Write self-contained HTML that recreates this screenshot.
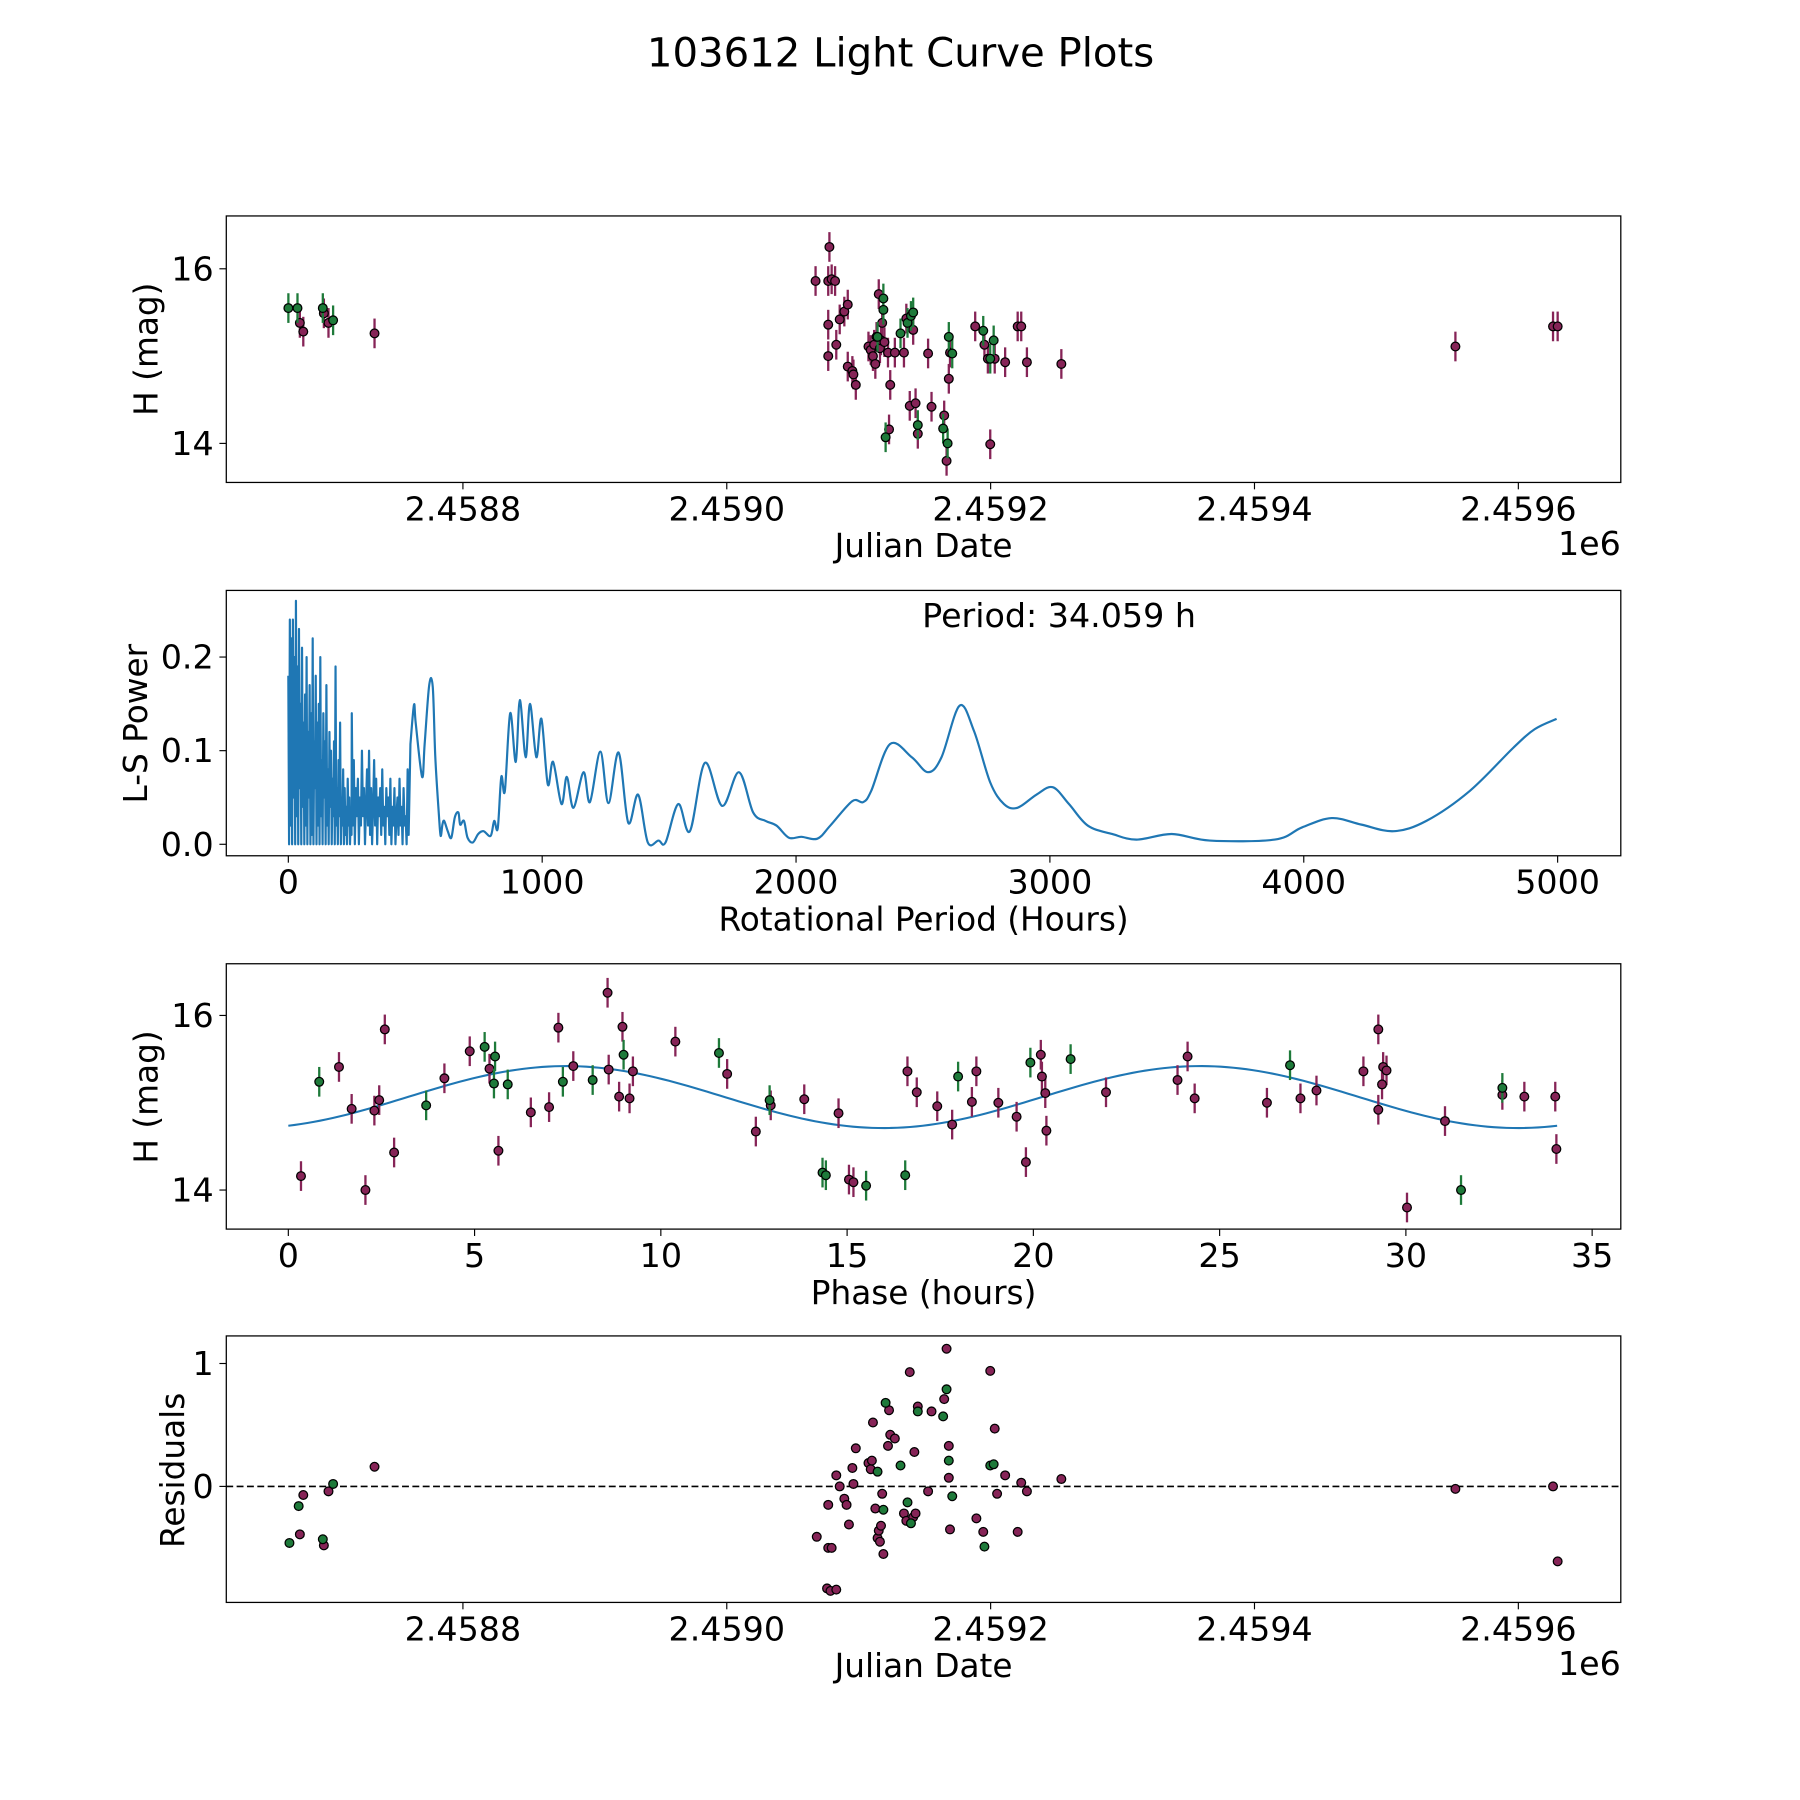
<!DOCTYPE html>
<html><head><meta charset="utf-8"><style>
html,body{margin:0;padding:0;background:#fff;}
svg{display:block;font-family:"DejaVu Sans","Liberation Sans",sans-serif;}
</style></head><body>
<svg id="fig" width="1800" height="1800" viewBox="0 0 1567 1567" xmlns="http://www.w3.org/2000/svg">
<rect width="1567" height="1567" fill="#fff"/>
<text x="784" y="58" font-size="35" text-anchor="middle">103612 Light Curve Plots</text>
<g id="layer"></g>
</svg>
<script>
// ---- Panel 1: light curve ----
const jdM=[2458676.4,2458679.0,2458694.6,2458698.1,2458733.0,2459067.3,2459076.9,2459076.9,2459076.9,2459077.8,2459079.5,2459082.1,2459083.0,2459085.6,2459089.1,2459091.7,2459091.7,2459095.2,2459096.0,2459097.8,2459107.4,2459109.1,2459110.8,2459111.7,2459112.6,2459113.5,2459115.2,2459116.1,2459116.9,2459117.8,2459119.5,2459122.2,2459123.0,2459123.9,2459127.4,2459134.3,2459136.1,2459138.7,2459141.3,2459143.1,2459144.8,2459152.6,2459155.2,2459164.8,2459166.6,2459168.3,2459169.2,2459188.3,2459195.3,2459197.9,2459199.7,2459203.1,2459211.0,2459220.5,2459223.2,2459227.5,2459253.6,2459552.3,2459626.3,2459629.8];
const hM=[15.38,15.28,15.49,15.38,15.26,15.86,15.36,15.0,15.86,16.25,15.88,15.86,15.13,15.42,15.51,15.59,14.88,14.83,14.79,14.67,15.11,15.07,15.0,15.13,14.91,15.22,15.71,15.09,15.18,15.38,15.16,15.04,14.16,14.67,15.04,15.04,15.43,14.43,15.30,14.46,14.11,15.03,14.42,14.32,13.80,14.74,15.04,15.34,15.13,14.97,13.99,14.97,14.93,15.34,15.34,14.93,14.91,15.11,15.34,15.34];
const jdG=[2458667.7,2458674.6,2458693.8,2458701.6,2459114.3,2459118.7,2459118.7,2459120.4,2459131.7,2459137.0,2459139.6,2459141.3,2459144.8,2459164.0,2459167.4,2459168.3,2459170.9,2459194.4,2459199.7,2459202.3];
const hG=[15.55,15.55,15.55,15.41,15.22,15.66,15.53,14.07,15.26,15.38,15.46,15.50,14.21,14.17,14.0,15.22,15.03,15.29,14.97,15.18];
const errP1=0.17;
// ---- Panel 2: periodogram ----
const densePeriodStart=0, densePeriodStep=3;
const densePower=[0.18,0.0,0.24,0.02,0.22,0.0,0.24,0.05,0.2,0.0,0.26,0.03,0.19,0.0,0.23,0.06,0.15,0.0,0.21,0.04,0.13,0.0,0.16,0.02,0.2,0.0,0.12,0.05,0.17,0.0,0.14,0.01,0.22,0.0,0.11,0.06,0.18,0.0,0.13,0.02,0.15,0.0,0.2,0.03,0.09,0.0,0.14,0.05,0.11,0.0,0.17,0.02,0.08,0.0,0.12,0.04,0.1,0.0,0.07,0.03,0.11,0.0,0.19,0.02,0.06,0.0,0.09,0.03,0.13,0.0,0.05,0.02,0.08,0.0,0.06,0.01,0.04,0.0,0.07,0.02,0.05,0.0,0.03,0.01];
const noisyPeriodStart=250, noisyPeriodStep=4;
const noisyPower=[0.14,0.02,0.09,0.0,0.06,0.03,0.07,0.0,0.05,0.02,0.1,0.03,0.06,0.0,0.04,0.08,0.02,0.1,0.01,0.06,0.0,0.04,0.09,0.02,0.07,0.0,0.05,0.03,0.06,0.01,0.08,0.02,0.04,0.0,0.06,0.03,0.05,0.01,0.07,0.0,0.04,0.02,0.06,0.0,0.03,0.05,0.01,0.07,0.02,0.04,0.0,0.06,0.02,0.03,0.0,0.08,0.01];
const smoothPeriods=[481,495,502,527,537,555,569,579,593,600,607,614,628,642,656,670,677,692,706,727,748,769,797,811,825,839,853,874,896,912,935,952,977,997,1022,1043,1076,1097,1123,1163,1188,1229,1261,1301,1339,1378,1416,1458,1486,1536,1582,1641,1709,1775,1831,1880,1923,1972,2021,2084,2135,2221,2264,2296,2370,2456,2520,2573,2644,2701,2765,2819,2872,2947,3011,3075,3149,3245,3341,3480,3630,3886,3993,4110,4227,4355,4483,4654,4825,4910,4996];
const smoothPower=[0.107,0.149,0.129,0.072,0.107,0.170,0.168,0.093,0.032,0.009,0.021,0.025,0.014,0.007,0.029,0.034,0.021,0.025,0.007,0.002,0.011,0.014,0.009,0.025,0.017,0.072,0.057,0.140,0.088,0.154,0.093,0.150,0.093,0.134,0.064,0.088,0.043,0.072,0.039,0.077,0.045,0.099,0.044,0.098,0.023,0.053,0.002,0.004,0.002,0.043,0.014,0.087,0.041,0.077,0.034,0.025,0.020,0.007,0.008,0.006,0.020,0.046,0.045,0.057,0.107,0.093,0.077,0.093,0.148,0.121,0.066,0.043,0.039,0.053,0.061,0.043,0.020,0.011,0.005,0.011,0.004,0.005,0.018,0.028,0.021,0.014,0.025,0.057,0.103,0.123,0.134];
// ---- Panel 3: phased ----
const phM=[0.34,1.36,1.70,2.07,2.31,2.44,2.59,2.84,4.19,4.87,5.40,5.64,6.51,7.0,7.25,7.65,8.57,8.60,8.88,8.97,9.16,9.25,10.39,11.78,12.55,12.95,13.85,14.77,15.05,15.17,16.62,16.87,17.42,17.82,18.35,18.47,19.06,19.55,19.80,20.20,20.23,20.32,20.35,21.95,23.87,24.14,24.33,26.27,27.17,27.60,28.86,29.26,29.26,29.36,29.39,29.48,30.03,31.05,32.59,33.18,34.01,34.04];
const phHM=[14.16,15.41,14.93,14.0,14.91,15.03,15.84,14.43,15.28,15.59,15.39,14.45,14.89,14.95,15.86,15.42,16.26,15.38,15.07,15.87,15.05,15.36,15.70,15.33,14.67,14.97,15.04,14.88,14.12,14.09,15.36,15.12,14.96,14.75,15.01,15.36,15.0,14.84,14.32,15.55,15.30,15.11,14.68,15.12,15.26,15.53,15.05,15.0,15.05,15.14,15.36,15.84,14.92,15.21,15.41,15.37,13.80,14.79,15.09,15.07,15.07,14.47];
const phG=[0.83,3.70,5.27,5.55,5.52,5.89,7.37,8.17,9.0,11.56,12.92,14.34,14.43,15.51,16.56,17.98,19.92,21.0,26.89,31.48,32.59];
const phHG=[15.24,14.97,15.64,15.53,15.22,15.21,15.24,15.26,15.55,15.57,15.03,14.20,14.17,14.05,14.17,15.30,15.46,15.50,15.43,14.0,15.17];
const fitParams=[15.065,0.355,3.2,17.03]; // mean, amplitude, phase offset, period(h)
// ---- Panel 4: residuals ----
const rjdM=[2458676.4,2458679.0,2458694.6,2458698.1,2458733.0,2459068.2,2459076.9,2459076.9,2459079.5,2459076.0,2459078.6,2459083.0,2459083.0,2459085.6,2459089.1,2459090.8,2459092.6,2459095.2,2459096.0,2459097.8,2459107.4,2459109.1,2459110.0,2459110.8,2459112.6,2459114.3,2459115.2,2459116.1,2459116.9,2459117.8,2459118.7,2459122.2,2459123.0,2459123.9,2459127.4,2459134.3,2459136.1,2459138.7,2459141.3,2459142.2,2459143.1,2459144.8,2459152.6,2459155.2,2459164.8,2459166.6,2459168.3,2459168.3,2459169.2,2459189.2,2459194.4,2459199.7,2459203.1,2459204.9,2459211.0,2459220.5,2459223.2,2459227.5,2459253.6,2459552.3,2459626.3,2459629.8];
const resM=[-0.39,-0.07,-0.48,-0.04,0.16,-0.41,-0.15,-0.50,-0.50,-0.83,-0.85,-0.84,0.09,0.0,-0.10,-0.15,-0.31,0.15,0.02,0.31,0.19,0.14,0.21,0.52,-0.18,-0.42,-0.36,-0.45,-0.32,-0.06,-0.55,0.33,0.62,0.42,0.39,-0.22,-0.28,0.93,-0.25,0.28,-0.22,0.65,-0.04,0.61,0.71,1.12,0.33,0.07,-0.35,-0.26,-0.37,0.94,0.47,-0.06,0.09,-0.37,0.03,-0.04,0.06,-0.02,0.0,-0.61];
const rjdG=[2458668.5,2458675.5,2458693.8,2458701.6,2459114.3,2459118.7,2459120.4,2459131.7,2459137.0,2459139.6,2459144.8,2459164.0,2459166.6,2459168.3,2459170.9,2459195.3,2459199.7,2459202.3];
const resG=[-0.46,-0.16,-0.43,0.02,0.12,-0.19,0.68,0.17,-0.13,-0.30,0.61,0.57,0.79,0.21,-0.08,-0.49,0.17,0.18];

const NS='http://www.w3.org/2000/svg';
const layer=document.getElementById('layer');
const MAG='#862457', GRN='#1e7a3a', BLUE='#1f77b4';
function mk(tag,attrs,parent){const e=document.createElementNS(NS,tag);for(const k in attrs)e.setAttribute(k,attrs[k]);(parent||layer).appendChild(e);return e;}
const X0=197,X1=1411;
const jdX=v=>403+(v-2458800)*1.1485;
const p1Y=v=>234-(v-16)*76;
const p2X=v=>251+v*0.221, p2Y=v=>735-v*815;
const p3X=v=>251+v*32.43, p3Y=v=>884-(v-16)*76;
const p4Y=v=>1294-v*107;

function frame(name){
  const g=mk('g',{});
  
  
  return g;
}
function box(g,y0,y1){
  const r=mk('rect',{x:X0,y:y0,width:X1-X0,height:y1-y0,fill:'none',stroke:'#000','stroke-width':1.1},g);
  
  
}
function xtick(g,x,y1,label){
  mk('line',{x1:x,x2:x,y1:y1,y2:y1+6,stroke:'#000','stroke-width':1},g);
  const t=mk('text',{x:x,y:y1+33,'font-size':29,'text-anchor':'middle'},g);
  t.textContent=label;
  
  
}
function ytick(g,y,label){
  mk('line',{x1:X0-6,x2:X0,y1:y,y2:y,stroke:'#000','stroke-width':1},g);
  const t=mk('text',{x:X0-11,y:y+10,'font-size':29,'text-anchor':'end'},g);
  t.textContent=label;
  
  
}
function xlabel(g,y,txt){
  const t=mk('text',{x:804,y:y,'font-size':28.5,'text-anchor':'middle'},g);
  t.textContent=txt;
  
  
}
function ylabel(g,x,yc,txt){
  const t=mk('text',{x:x,y:yc,'font-size':28.5,'text-anchor':'middle',transform:'rotate(-90 '+x+' '+yc+')'},g);
  t.textContent=txt;
  
  
}
function offset(g,y){
  const t=mk('text',{x:X1,y:y,'font-size':29,'text-anchor':'end'},g);
  t.textContent='1e6';
  
  
}
function points(g,xs,ys,fx,fy,col,err,name){
  if(err){
    for(let i=0;i<xs.length;i++){
      const l=mk('line',{x1:fx(xs[i]),x2:fx(xs[i]),y1:fy(ys[i]-err),y2:fy(ys[i]+err),stroke:col,'stroke-width':2},g);
      
      
    }
  }
  for(let i=0;i<xs.length;i++){
    const c=mk('circle',{cx:fx(xs[i]),cy:fy(ys[i]),r:3.8,fill:col,stroke:'#000','stroke-width':1.1},g);
    
    
  }
}
const jdTicks=[2458800,2459000,2459200,2459400,2459600];
const jdTickLabels=['2.4588','2.4590','2.4592','2.4594','2.4596'];

// Panel 1
{
  const g=frame('light-curve-panel');
  jdTicks.forEach((v,i)=>xtick(g,jdX(v),420,jdTickLabels[i]));
  [14,16].forEach(v=>ytick(g,p1Y(v),String(v)));
  points(g,jdM,hM,jdX,p1Y,MAG,errP1,'magenta-obs');
  points(g,jdG,hG,jdX,p1Y,GRN,errP1,'green-obs');
  box(g,188,420);
  xlabel(g,485,'Julian Date'); offset(g,483); ylabel(g,137,304,'H (mag)');
}
// Panel 2
{
  const g=frame('periodogram-panel');
  [0,1000,2000,3000,4000,5000].forEach(v=>xtick(g,p2X(v),745,String(v)));
  [0,0.1,0.2].forEach(v=>ytick(g,p2Y(v),v.toFixed(1)));
  let d='';
  let first=true;
  densePower.forEach((p,i)=>{d+=(first?'M':'L')+p2X(densePeriodStart+i*densePeriodStep).toFixed(2)+' '+p2Y(p).toFixed(2);first=false;});
  noisyPower.forEach((p,i)=>{d+='L'+p2X(noisyPeriodStart+i*noisyPeriodStep).toFixed(2)+' '+p2Y(p).toFixed(2);});
  const sp=smoothPeriods.map((h,i)=>[p2X(h),p2Y(smoothPower[i])]);
  d+='L'+sp[0][0].toFixed(2)+' '+sp[0][1].toFixed(2);
  for(let i=0;i<sp.length-1;i++){
    const p0=sp[Math.max(0,i-1)],p1=sp[i],p2=sp[i+1],p3=sp[Math.min(sp.length-1,i+2)];
    const c1=[p1[0]+(p2[0]-p0[0])/6,p1[1]+(p2[1]-p0[1])/6];
    const c2=[p2[0]-(p3[0]-p1[0])/6,p2[1]-(p3[1]-p1[1])/6];
    d+='C'+c1[0].toFixed(2)+' '+c1[1].toFixed(2)+' '+c2[0].toFixed(2)+' '+c2[1].toFixed(2)+' '+p2[0].toFixed(2)+' '+p2[1].toFixed(2);
  }
  const path=mk('path',{d:d,fill:'none',stroke:BLUE,'stroke-width':1.9,'stroke-linejoin':'round'},g);
  
  
  box(g,514,745);
  const t=mk('text',{x:922,y:546,'font-size':29,'text-anchor':'middle'},g);
  t.textContent='Period: 34.059 h';
  
  
  xlabel(g,810,'Rotational Period (Hours)'); ylabel(g,128,630,'L-S Power');
}
// Panel 3
{
  const g=frame('phased-curve-panel');
  [0,5,10,15,20,25,30,35].forEach(v=>xtick(g,p3X(v),1070,String(v)));
  [14,16].forEach(v=>ytick(g,p3Y(v),String(v)));
  let d='';
  for(let i=0;i<=200;i++){const t=34.06*i/200;const y=fitParams[0]+fitParams[1]*Math.sin(2*Math.PI*(t-fitParams[2])/fitParams[3]);d+=(i?'L':'M')+p3X(t).toFixed(2)+' '+p3Y(y).toFixed(2);}
  const fit=mk('path',{d:d,fill:'none',stroke:BLUE,'stroke-width':1.8},g);
  
  
  points(g,phM,phHM,p3X,p3Y,MAG,errP1,'magenta-phased');
  points(g,phG,phHG,p3X,p3Y,GRN,errP1,'green-phased');
  box(g,839,1070);
  xlabel(g,1135,'Phase (hours)'); ylabel(g,137,955,'H (mag)');
}
// Panel 4
{
  const g=frame('residuals-panel');
  jdTicks.forEach((v,i)=>xtick(g,jdX(v),1395,jdTickLabels[i]));
  [0,1].forEach(v=>ytick(g,p4Y(v),String(v)));
  const z=mk('line',{x1:X0,x2:X1,y1:p4Y(0),y2:p4Y(0),stroke:'#000','stroke-width':1.4,'stroke-dasharray':'6 3'},g);
  
  
  points(g,rjdM,resM,jdX,p4Y,MAG,0,'magenta-residual');
  points(g,rjdG,resG,jdX,p4Y,GRN,0,'green-residual');
  box(g,1163,1395);
  xlabel(g,1460,'Julian Date'); offset(g,1458); ylabel(g,160,1280,'Residuals');
}
</script>
</body></html>
